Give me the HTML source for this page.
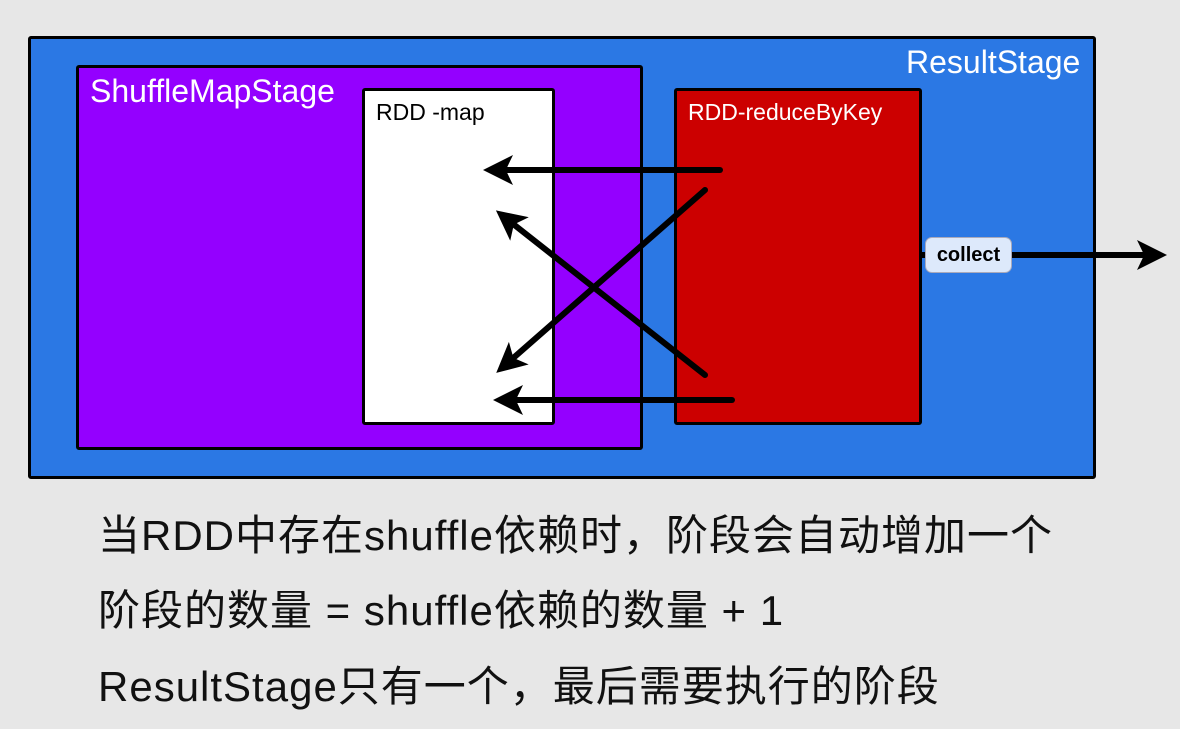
<!DOCTYPE html>
<html><head><meta charset="utf-8"><style>
body{margin:0;width:1180px;height:729px;background:#e7e7e7;overflow:hidden;position:relative;font-family:"Liberation Sans","Noto Sans CJK SC",sans-serif}
.b{position:absolute;box-sizing:border-box;border:3px solid #000;border-radius:3px}
.t{position:absolute;white-space:nowrap}
.L{font-size:42px;color:#111;letter-spacing:1px}
</style></head><body>
<div class="b" style="left:28px;top:36px;width:1068px;height:443px;background:#2b78e4"></div>
<div class="t" style="left:906px;top:44px;font-size:32px;color:#fff">ResultStage</div>
<div class="b" style="left:76px;top:65px;width:567px;height:385px;background:#9400ff"></div>
<div class="t" style="left:90px;top:73px;font-size:32px;color:#fff">ShuffleMapStage</div>
<div class="b" style="left:362px;top:88px;width:193px;height:337px;background:#fff"></div>
<div class="t" style="left:376px;top:99px;font-size:23px;color:#000">RDD -map</div>
<div class="b" style="left:674px;top:88px;width:248px;height:337px;background:#cc0000"></div>
<div class="t" style="left:688px;top:99px;font-size:23px;color:#fff">RDD-reduceByKey</div>
<svg style="position:absolute;left:0;top:0" width="1180" height="729">
<defs><marker id="a" markerWidth="5" markerHeight="5" refX="3.5" refY="2.5" orient="auto" markerUnits="strokeWidth"><path d="M0,0 L5,2.5 L0,5 L1.2,2.5 z" fill="#000"/></marker></defs>
<g stroke="#000" stroke-width="6" stroke-linecap="round" fill="none" marker-end="url(#a)">
<line x1="720" y1="170" x2="492" y2="170"/>
<line x1="705" y1="375" x2="503" y2="216"/>
<line x1="705" y1="190" x2="503" y2="367"/>
<line x1="732" y1="400" x2="502" y2="400"/>
<line x1="1012" y1="255" x2="1158" y2="255"/>
</g>
<line x1="922" y1="255" x2="930" y2="255" stroke="#000" stroke-width="6"/>
</svg>
<div class="t" style="left:925px;top:237px;width:87px;height:36px;box-sizing:border-box;background:#dde9fb;border:1px solid #aab;border-radius:7px;font-size:20px;font-weight:bold;line-height:34px;text-align:center;color:#000">collect</div>
<div class="t L" style="left:98px;top:502px">当RDD中存在shuffle依赖时，阶段会自动增加一个</div>
<div class="t L" style="left:98px;top:577px">阶段的数量 = shuffle依赖的数量 + 1</div>
<div class="t L" style="left:98px;top:653px">ResultStage只有一个，最后需要执行的阶段</div>
</body></html>
